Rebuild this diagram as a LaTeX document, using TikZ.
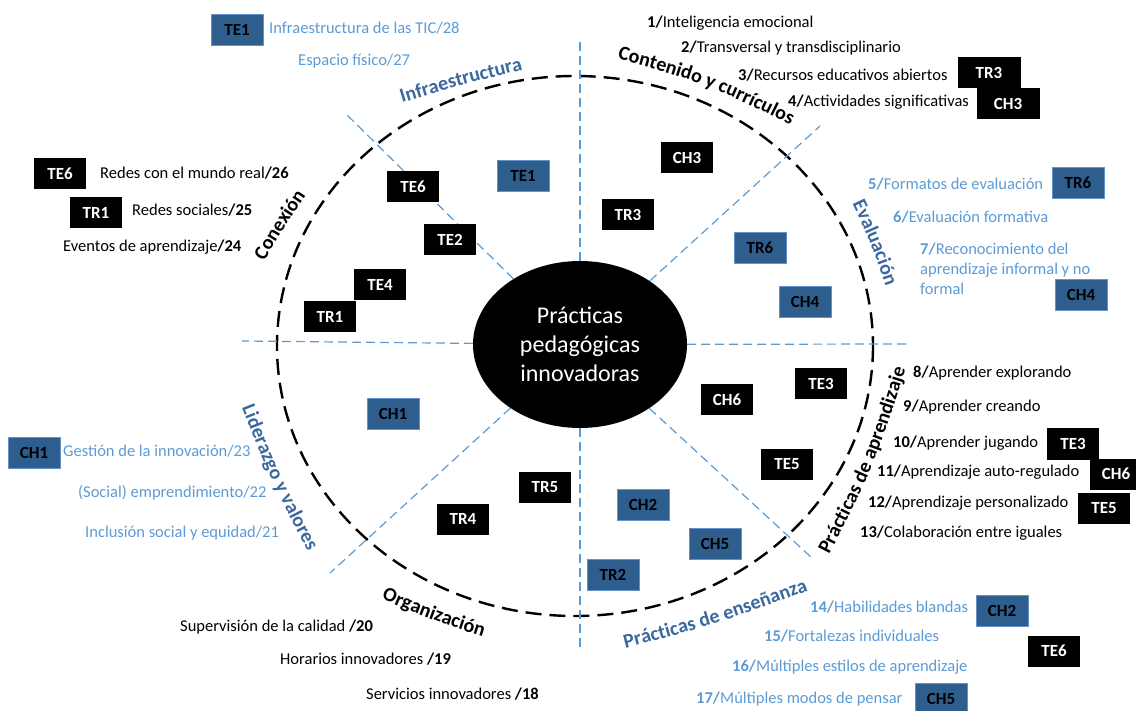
\documentclass[tikz,border=0pt]{standalone}
\usepackage{fontspec}
\setmainfont{Carlito}
\usetikzlibrary{shapes.geometric,decorations.text}
\definecolor{listblue}{RGB}{91,155,213}
\definecolor{catblue}{RGB}{60,104,160}
\definecolor{boxblue}{RGB}{46,94,142}
\definecolor{boxedge}{RGB}{100,145,200}
\newcommand\lstfont{\fontsize{16.5}{20}\selectfont}
\newcommand\catfont{\fontsize{20}{24}\selectfont\bfseries}
\newcommand\boxfont{\fontsize{17}{18}\selectfont\bfseries}
\newcommand\hubfont{\fontsize{24}{29}\selectfont}

\begin{document}
\begin{tikzpicture}[x=1pt,y=-1pt,
  box/.style={minimum width=52pt,minimum height=31pt,inner sep=0pt,font=\boxfont},
  bk/.style={box,fill=black,text=white},
  bu/.style={box,fill=boxblue,draw=boxedge,line width=0.6pt,text=black},
  item/.style={anchor=west,inner sep=0pt,font=\lstfont},
  bitem/.style={item,text=listblue},
  ring/.style={draw=black,line width=2.4pt,dash pattern=on 16pt off 8pt},
  spoke/.style={draw=listblue,line width=1.2pt,dash pattern=on 9pt off 5pt},
  catk/.style={decorate,decoration={text along path,text align=center,text color=black,text={|\catfont|#1}}},
  catb/.style={decorate,decoration={text along path,text align=center,text color=catblue,text={|\catfont|#1}}},
]
\useasboundingbox (0,0) rectangle (1136,711);

% outer dashed ring
\draw[ring] (575,346) ellipse [x radius=298, y radius=270];

% hub
\node[ellipse,fill=black,minimum width=214pt,minimum height=167pt,inner sep=0pt,
      text=white,font=\hubfont,align=center] (hub) at (580,344.5)
      {Prácticas\\pedagógicas\\innovadoras};

% spokes
\coordinate (sN) at (580,38);
\coordinate (sS) at (580,648);
\coordinate (sW) at (242,341);
\coordinate (sE) at (907,344);
\coordinate (sNW) at (345,113);
\coordinate (sNE) at (820,126);
\coordinate (sSW) at (330,573);
\coordinate (sSE) at (812,558);
\foreach \e in {sN,sS,sW,sE,sNW,sNE,sSW,sSE} \draw[spoke] (hub) -- (\e);

% sector labels along the ring
\path[catb={Infraestructura}] (355.7,117.1) .. controls (463,84) .. (570.3,58.9);
\path[catk={Contenido y currículos}] (569.3,46.1) .. controls (708,83) .. (834.7,147.9);
\path[catb={Evaluación}] (831.2,160.6) .. controls (872,243.5) .. (900.8,332.4);
\path[catk={Prácticas de aprendizaje}] (805,601) .. controls (876,465) .. (921,319);
\path[catb={Prácticas de enseñanza}] (576.3,661) .. controls (716,625) .. (855.7,573);
\path[catk={Organización}] (339.1,580.5) .. controls (431,620.5) .. (526.9,650.5);
\path[catb={Liderazgo y valores}] (223.7,361) .. controls (270.5,481.5) .. (331.3,596);
\path[catk={Conexión}] (242,300) .. controls (283.5,227.5) .. (331.5,158.5);

% codes inside the ring
\node[bk] (inTE6) at (413,187) {TE6};
\node[bu] (inTE1) at (523,176) {TE1};
\node[bk] (inTE2) at (450,240) {TE2};
\node[bk] (inTE4) at (380,285) {TE4};
\node[bk] (inTR1) at (330,317) {TR1};
\node[bk] (inCH3) at (687,158) {CH3};
\node[bk] (inTR3) at (628,215) {TR3};
\node[bu] (inTR6) at (760,248) {TR6};
\node[bu] (inCH4) at (805,302) {CH4};
\node[bu] (inCH1) at (393,414) {CH1};
\node[bk] (inCH6) at (727,400) {CH6};
\node[bk] (inTE3) at (821,384) {TE3};
\node[bk] (inTE5) at (787,464) {TE5};
\node[bk] (inTR5) at (545,487) {TR5};
\node[bk] (inTR4) at (463,519) {TR4};
\node[bu] (inCH2) at (643,505) {CH2};
\node[bu] (inCH5) at (715,544) {CH5};
\node[bu] (inTR2) at (613,575) {TR2};

% lists around the ring
\node[bitem] (i28) at (269,28) {Infraestructura de las TIC/28};
\node[bitem] (i27) at (298,61) {Espacio físico/27};
\node[bu] (oTE1) at (237,30) {TE1};

\node[item] (i1) at (647,23) {\textbf{1/}Inteligencia emocional};
\node[item] (i2) at (681,48) {\textbf{2/}Transversal y transdisciplinario};
\node[item] (i3) at (738,75) {\textbf{3/}Recursos educativos abiertos};
\node[item] (i4) at (788,102) {\textbf{4/}Actividades significativas};
\node[bk,minimum width=63pt] (oTR3) at (989,73) {TR3};
\node[bk,minimum width=63pt] (oCH3) at (1008,104) {CH3};

\node[bitem] (i5) at (868,184) {\textbf{5/}Formatos de evaluación};
\node[bitem] (i6) at (893,217) {\textbf{6/}Evaluación formativa};
\node[bitem,align=left] (i7) at (920,269) {\textbf{7/}Reconocimiento del\\aprendizaje informal y no\\formal};
\node[bu] (oTR6) at (1078,183) {TR6};
\node[bu] (oCH4) at (1081,295) {CH4};

\node[item] (i8) at (913,373) {\textbf{8/}Aprender explorando};
\node[item] (i9) at (903,407) {\textbf{9/}Aprender creando};
\node[item] (i10) at (893,443) {\textbf{10/}Aprender jugando};
\node[item] (i11) at (877,472) {\textbf{11/}Aprendizaje auto-regulado};
\node[item] (i12) at (868,503) {\textbf{12/}Aprendizaje personalizado};
\node[item] (i13) at (860,533) {\textbf{13/}Colaboración entre iguales};
\node[bk] (oTE3) at (1073,444) {TE3};
\node[bk] (oCH6) at (1116,474) {CH6};
\node[bk] (oTE5) at (1104,508) {TE5};

\node[bitem] (i14) at (810,607) {\textbf{14/}Habilidades blandas};
\node[bitem] (i15) at (764,636) {\textbf{15/}Fortalezas individuales};
\node[bitem] (i16) at (732,667) {\textbf{16/}Múltiples estilos de aprendizaje};
\node[bitem] (i17) at (696,699) {\textbf{17/}Múltiples modos de pensar};
\node[bu] (oCH2) at (1002,611) {CH2};
\node[bk] (oTE6b) at (1054,651) {TE6};
\node[bu] (oCH5) at (941,699) {CH5};

\node[item] (i18) at (366,694) {Servicios innovadores \textbf{/18}};
\node[item] (i19) at (280,659) {Horarios innovadores \textbf{/19}};
\node[item] (i20) at (180,627) {Supervisión de la calidad \textbf{/20}};

\node[bitem] (i21) at (85,533) {Inclusión social y equidad/21};
\node[bitem] (i22) at (78,493) {(Social) emprendimiento/22};
\node[bitem] (i23) at (63,451) {Gestión de la innovación/23};
\node[bu] (oCH1) at (34,453) {CH1};

\node[item] (i24) at (63,247) {Eventos de aprendizaje\textbf{/24}};
\node[item] (i25) at (132,210) {Redes sociales\textbf{/25}};
\node[item] (i26) at (100,173) {Redes con el mundo real\textbf{/26}};
\node[bk] (oTE6) at (60,174) {TE6};
\node[bk] (oTR1) at (96,213) {TR1};
\end{tikzpicture}
\end{document}
